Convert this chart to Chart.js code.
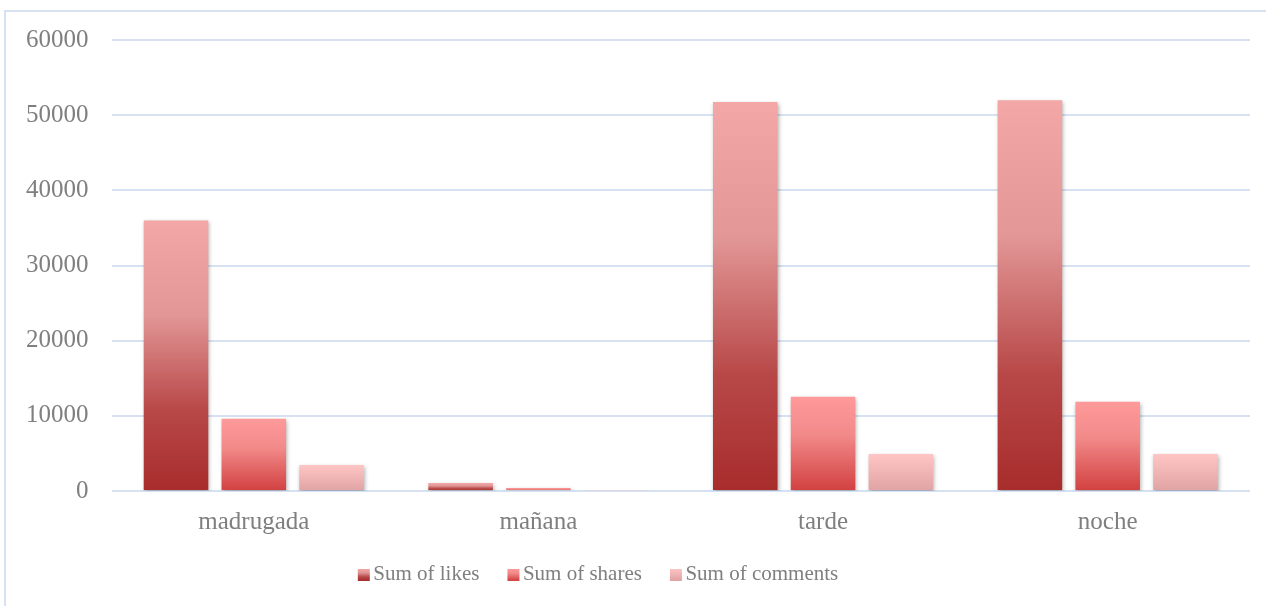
<!DOCTYPE html>
<html>
<head>
<meta charset="utf-8">
<script src="https://cdn.jsdelivr.net/npm/chart.js@4"></script>
<style>
	html, body { margin: 0; padding: 0; background: #fff; }
	#wrap { width: 1266px; height: 606px; }
</style>
</head>
<body>
<div id="wrap"><canvas id="myChart"></canvas></div>
<script>
const categories = ['madrugada', 'mañana', 'tarde', 'noche']
const likes = [36000, 1070, 51750, 52000]
const shares = [9600, 400, 12550, 11870]
const comments = [3470, 100, 4930, 4930]
const yTicks = [0, 10000, 20000, 30000, 40000, 50000, 60000]

const gray = '#7f7f7f'
const gridBlue = '#d6e2f2'

// top -> bottom colour stops for each series
const stops = {
	likes: [[0, '#f3a7a7'], [0.35, '#e29696'], [0.7, '#b84848'], [1, '#a82c2c']],
	shares: [[0, '#ff9a9a'], [0.4, '#f28a8a'], [1, '#d24040']],
	comments: [[0, '#ffc5c5'], [1, '#e0a3a3']],
}

function barFill(key) {
	return function (ctx) {
		const chart = ctx.chart
		const s = stops[key]
		if (!chart.chartArea || ctx.type !== 'data') return s[s.length - 1][1]
		const y = chart.scales.y
		const top = y.getPixelForValue(ctx.raw)
		const bottom = y.getPixelForValue(0)
		const g = chart.ctx.createLinearGradient(0, top, 0, Math.max(bottom, top + 1))
		s.forEach(st => g.addColorStop(st[0], st[1]))
		return g
	}
}

// legend swatch: 12px square placed right of centre in a wider image
function swatch(key) {
	const c = document.createElement('canvas')
	c.width = 32
	c.height = 12
	const x = c.getContext('2d')
	const g = x.createLinearGradient(0, 0, 0, 12)
	stops[key].forEach(st => g.addColorStop(st[0], st[1]))
	x.fillStyle = g
	x.fillRect(18, 0, 12, 12)
	return c
}

const frame = {
	id: 'frame',
	beforeDraw(chart) {
		const c = chart.ctx
		c.save()
		c.strokeStyle = gridBlue
		c.lineWidth = 2
		c.beginPath()
		c.moveTo(5, 620)
		c.lineTo(5, 11)
		c.lineTo(1280, 11)
		c.stroke()
		c.restore()
	},
	afterLayout(chart) {
		// legend sits a bit left of centre
		chart.legend.right -= 66
	},
}

const shadow = {
	id: 'shadow',
	beforeDatasetsDraw(chart) {
		const c = chart.ctx
		c.save()
		c.shadowColor = 'rgba(0,0,0,0.3)'
		c.shadowBlur = 4
		c.shadowOffsetX = 1
		c.shadowOffsetY = 2
	},
	afterDatasetsDraw(chart) {
		chart.ctx.restore()
	},
}

function getChart() {
	const context = document.getElementById('myChart')
	const data = {
		labels: categories,
		datasets: [
			{ label: 'Sum of likes', data: likes, backgroundColor: barFill('likes'), pointStyle: swatch('likes') },
			{ label: 'Sum of shares', data: shares, backgroundColor: barFill('shares'), pointStyle: swatch('shares') },
			{ label: 'Sum of comments', data: comments, backgroundColor: barFill('comments'), pointStyle: swatch('comments') },
		],
	}
	const config = {
		type: 'bar',
		data: data,
		plugins: [frame, shadow],
		options: {
			responsive: true,
			maintainAspectRatio: false,
			animation: false,
			categoryPercentage: 0.82,
			barPercentage: 0.83,
			layout: { padding: { left: 3, right: 16, top: 34, bottom: 11 } },
			plugins: {
				tooltip: { enabled: false },
				legend: {
					position: 'bottom',
					labels: {
						usePointStyle: true,
						pointStyleWidth: 14,
						color: gray,
						font: { family: 'Liberation Serif', size: 21 },
						padding: 19,
						boxHeight: 12,
					},
				},
			},
			scales: {
				x: {
					grid: { display: false },
					border: { display: false },
					ticks: { color: gray, font: { family: 'Liberation Serif', size: 25 }, padding: 8 },
				},
				y: {
					min: 0,
					max: 60000,
					afterBuildTicks: axis => { axis.ticks = yTicks.map(v => ({ value: v })) },
					grid: { color: gridBlue, lineWidth: 2, drawTicks: false },
					border: { display: false },
					ticks: {
						color: gray,
						font: { family: 'Liberation Serif', size: 25, lineHeight: 1.36 },
						padding: 23,
						callback: v => String(v),
					},
				},
			},
		},
	}
	return new Chart(context, config)
}

getChart()
</script>
</body>
</html>
